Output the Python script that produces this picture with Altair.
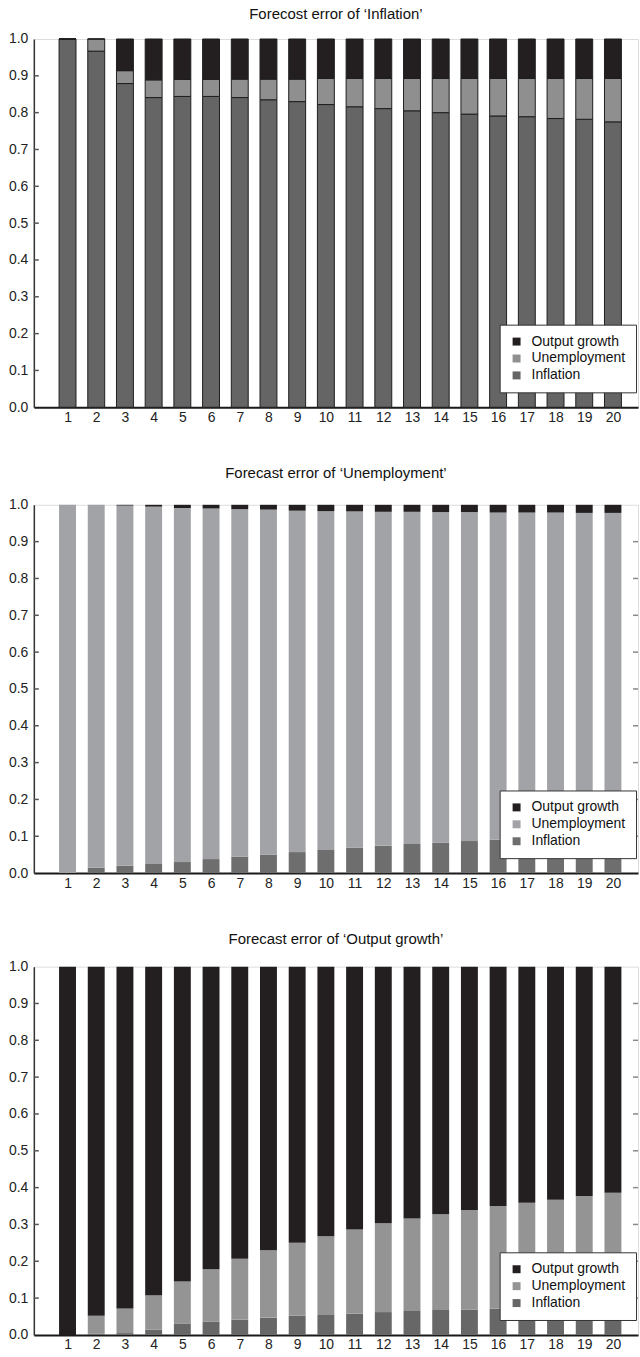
import altair as alt
import pandas as pd

# Forecast horizons and series
horizons = list(range(1, 21))
series_names = ["Output growth", "Unemployment", "Inflation"]
y_ticks = [0.0, 0.1, 0.2, 0.3, 0.4, 0.5, 0.6, 0.7, 0.8, 0.9, 1.0]
inner_ticks = [0.1, 0.2, 0.3, 0.4, 0.5, 0.6, 0.7, 0.8, 0.9]

# Variance shares: forecast error of 'Inflation'
inf_inflation = [1.000, 0.967, 0.879, 0.841, 0.844, 0.844, 0.841, 0.835, 0.830, 0.822,
                 0.816, 0.811, 0.805, 0.800, 0.796, 0.791, 0.789, 0.784, 0.782, 0.775]
inf_unemployment = [0.000, 0.033, 0.035, 0.048, 0.046, 0.046, 0.050, 0.056, 0.061, 0.071,
                    0.077, 0.082, 0.088, 0.093, 0.097, 0.102, 0.104, 0.109, 0.111, 0.118]
inf_output = [0.000, 0.000, 0.086, 0.111, 0.110, 0.110, 0.109, 0.109, 0.109, 0.107,
              0.107, 0.107, 0.107, 0.107, 0.107, 0.107, 0.107, 0.107, 0.107, 0.107]

# Variance shares: forecast error of 'Unemployment'
une_inflation = [0.000, 0.015, 0.020, 0.025, 0.030, 0.038, 0.045, 0.050, 0.057, 0.063,
                 0.069, 0.074, 0.079, 0.083, 0.087, 0.091, 0.094, 0.097, 0.100, 0.102]
une_unemployment = [1.000, 0.985, 0.978, 0.970, 0.961, 0.952, 0.943, 0.937, 0.927, 0.920,
                    0.913, 0.907, 0.902, 0.897, 0.893, 0.888, 0.885, 0.882, 0.878, 0.876]
une_output = [0.000, 0.000, 0.002, 0.005, 0.009, 0.010, 0.012, 0.013, 0.016, 0.017,
              0.018, 0.019, 0.019, 0.020, 0.020, 0.021, 0.021, 0.021, 0.022, 0.022]

# Variance shares: forecast error of 'Output growth'
out_inflation = [0.000, 0.003, 0.005, 0.014, 0.030, 0.036, 0.041, 0.047, 0.052, 0.056,
                 0.058, 0.062, 0.065, 0.068, 0.069, 0.071, 0.073, 0.074, 0.075, 0.076]
out_unemployment = [0.000, 0.049, 0.067, 0.094, 0.115, 0.142, 0.166, 0.183, 0.198, 0.212,
                    0.228, 0.241, 0.251, 0.260, 0.270, 0.279, 0.286, 0.293, 0.302, 0.310]
out_output = [1.000, 0.948, 0.928, 0.892, 0.855, 0.822, 0.793, 0.770, 0.750, 0.732,
              0.714, 0.697, 0.684, 0.672, 0.661, 0.650, 0.641, 0.633, 0.623, 0.614]

SANS = "Liberation Sans, Arial, sans-serif"
PLOT_W = 607
PLOT_H = 370

y_axis = alt.Axis(values=y_ticks, format=".1f", title=None, ticks=False,
                  grid=False, labelFontSize=14, labelFont=SANS,
                  labelPadding=6, labelColor="#222",
                  domainColor="#333", domainWidth=1.5,
                  minExtent=33, maxExtent=33)


def long_table(inflation, unemployment, output):
    rows = []
    for i, h in enumerate(horizons):
        for name, vals, rank in (("Inflation", inflation, 0),
                                 ("Unemployment", unemployment, 1),
                                 ("Output growth", output, 2)):
            rows.append({"horizon": h, "series": name, "share": vals[i], "rank": rank})
    return pd.DataFrame(rows)


def panel(title, df, colors, bar_stroke, right_ticks, title_offset):
    bar_kwargs = {"size": 17}
    if bar_stroke:
        bar_kwargs.update(stroke="#1e1e1e", strokeWidth=1)
    bars = alt.Chart(df).mark_bar(**bar_kwargs).encode(
        x=alt.X("horizon:Q",
                scale=alt.Scale(domain=[0, 20.7], nice=False, zero=False),
                axis=alt.Axis(values=horizons, format="d", title=None, ticks=False,
                              grid=False, labelFontSize=14, labelFont=SANS,
                              labelPadding=3, labelColor="#222", labelFlush=False,
                              domainColor="#1a1a1a", domainWidth=2)),
        y=alt.Y("share:Q", stack="zero",
                scale=alt.Scale(domain=[0, 1], nice=False),
                axis=y_axis),
        color=alt.Color("series:N",
                        scale=alt.Scale(domain=series_names, range=colors),
                        legend=alt.Legend(title=None, orient="none",
                                          legendX=468, legendY=287,
                                          symbolType="square", symbolSize=64,
                                          symbolStrokeWidth=0,
                                          labelFont=SANS, labelFontSize=14,
                                          labelColor="#111", labelOffset=8,
                                          rowPadding=3, padding=10,
                                          strokeColor="#333", fillColor="white")),
        order=alt.Order("rank:Q", sort="ascending"),
    )
    # short inward tick marks along the frame
    tick_df = pd.DataFrame({"share": inner_ticks})
    layers = [bars,
              alt.Chart(tick_df).mark_rule(color="#555", strokeWidth=1.5).encode(
                  y=alt.Y("share:Q", axis=y_axis), x=alt.value(0), x2=alt.value(5))]
    if right_ticks:
        layers.append(
            alt.Chart(tick_df).mark_rule(color="#888", strokeWidth=1.5).encode(
                y=alt.Y("share:Q", axis=y_axis),
                x=alt.value(PLOT_W - 5), x2=alt.value(PLOT_W)))
    return alt.layer(*layers).properties(
        width=PLOT_W, height=PLOT_H,
        title=alt.TitleParams(title, fontSize=15, font=SANS, fontWeight="normal",
                              color="#111", anchor="middle", offset=title_offset))


p1 = panel("Forecost error of \u2018Inflation\u2019",
           long_table(inf_inflation, inf_unemployment, inf_output),
           ["#231f20", "#8f8f8f", "#656565"], True, False, 10)
p2 = panel("Forecast error of \u2018Unemployment\u2019",
           long_table(une_inflation, une_unemployment, une_output),
           ["#231f20", "#a2a3a6", "#6e6e6e"], False, True, 17)
p3 = panel("Forecast error of \u2018Output growth\u2019",
           long_table(out_inflation, out_unemployment, out_output),
           ["#231f20", "#949494", "#676767"], False, True, 13)

chart = alt.vconcat(p1, p2, p3, spacing=40).resolve_scale(
    color="independent"
).resolve_legend(
    color="independent"
).properties(
    padding={"left": 0, "top": 3, "right": 0, "bottom": 0}
).configure_view(stroke="#444", strokeWidth=1).configure(background="white")

chart.save("out.html", embed_options={"renderer": "svg", "actions": False})
